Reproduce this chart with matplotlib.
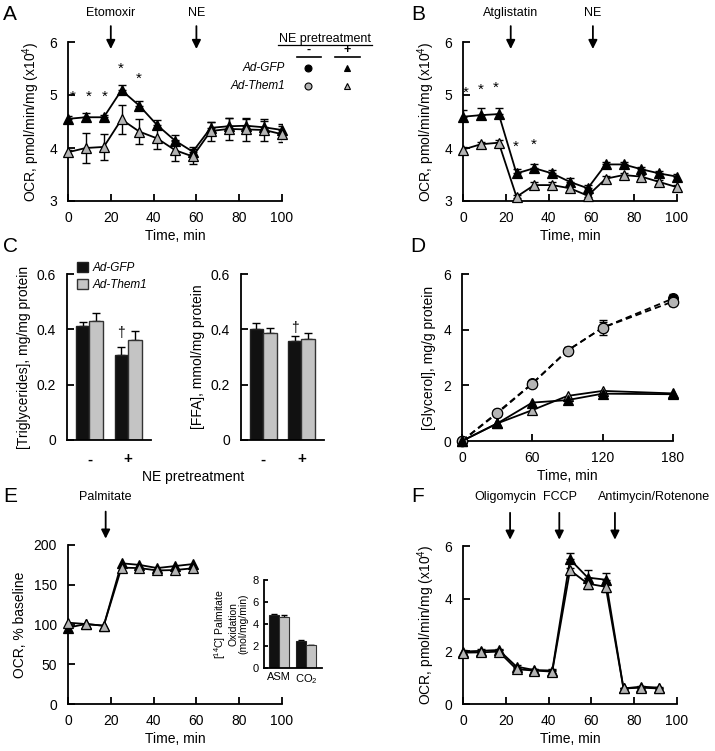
import numpy as np
import matplotlib
matplotlib.use('Agg')
import matplotlib.pyplot as plt
from matplotlib.lines import Line2D

plt.rcParams['font.family'] = ['Liberation Sans', 'DejaVu Sans']
plt.rcParams['mathtext.fontset'] = 'custom'
plt.rcParams['mathtext.rm'] = 'Liberation Sans'
plt.rcParams['mathtext.it'] = 'Liberation Sans:italic'
plt.rcParams['mathtext.default'] = 'regular'

# ---- data ----
t_min = [0, 8.3, 16.7, 25, 33.3, 41.7, 50, 58.3, 66.7, 75, 83.3, 91.7, 100]

# A: etomoxir, NE pretreated cells
a_gfp = [4.55, 4.58, 4.58, 5.09, 4.80, 4.43, 4.14, 3.93, 4.38, 4.41, 4.42, 4.39, 4.34]
a_gfp_err = [0.05, 0.08, 0.05, 0.10, 0.08, 0.10, 0.10, 0.08, 0.12, 0.15, 0.12, 0.12, 0.12]
a_them = [3.92, 4.00, 4.02, 4.54, 4.31, 4.18, 3.96, 3.84, 4.32, 4.36, 4.35, 4.34, 4.26]
a_them_err = [0.05, 0.28, 0.24, 0.28, 0.24, 0.20, 0.20, 0.15, 0.18, 0.20, 0.22, 0.20, 0.15]
a_star_t = [2.3, 9.5, 17.0, 24.5, 33.0]
a_star_y = [4.97, 4.97, 4.97, 5.49, 5.30]

# B: atglistatin
b_gfp = [4.59, 4.62, 4.64, 3.52, 3.62, 3.52, 3.36, 3.24, 3.69, 3.69, 3.60, 3.52, 3.46]
b_gfp_err = [0.12, 0.13, 0.12, 0.08, 0.08, 0.06, 0.08, 0.06, 0.04, 0.04, 0.05, 0.05, 0.05]
b_them = [3.97, 4.07, 4.10, 3.08, 3.30, 3.30, 3.24, 3.10, 3.42, 3.49, 3.46, 3.36, 3.26]
b_them_err = [0.05, 0.05, 0.06, 0.03, 0.05, 0.05, 0.05, 0.03, 0.06, 0.04, 0.04, 0.04, 0.04]
b_star_t = [1.5, 8.5, 15.5, 24.5, 33.0]
b_star_y = [5.04, 5.10, 5.14, 4.03, 4.06]

# C: triglycerides and FFA
c_groups = ['-', '+']
tg_gfp = [0.411, 0.309]
tg_gfp_err = [0.016, 0.027]
tg_them = [0.429, 0.360]
tg_them_err = [0.030, 0.034]
ffa_gfp = [0.402, 0.359]
ffa_gfp_err = [0.022, 0.018]
ffa_them = [0.388, 0.366]
ffa_them_err = [0.018, 0.019]

# D: glycerol release
d_t = [0, 30, 60, 90, 120, 180]
d_gfp_minus = [0, 1.02, 2.07, 3.25, 4.07, 5.12]
d_gfp_minus_err = [0, 0.05, 0.05, 0.10, 0.20, 0.15]
d_them_minus = [0, 0.99, 2.06, 3.25, 4.07, 5.01]
d_them_minus_err = [0, 0.10, 0.05, 0.12, 0.26, 0.15]
d_gfp_plus = [0, 0.63, 1.38, 1.47, 1.70, 1.68]
d_them_plus = [0, 0.63, 1.11, 1.62, 1.80, 1.71]

# E: palmitate
e_t = [0, 8.3, 16.7, 25, 33.3, 41.7, 50, 58.3]
e_gfp = [96, 100.6, 98.5, 177, 175, 171, 173.5, 176]
e_them = [102.3, 100.6, 98.5, 171.5, 171, 168, 168.5, 170.7]
e_inset_cats = ['ASM', 'CO$_2$']
e_inset_gfp = [4.81, 2.44]
e_inset_gfp_err = [0.10, 0.15]
e_inset_them = [4.66, 2.07]
e_inset_them_err = [0.20, 0.0]

# F: mito stress test
f_t = [0, 8.3, 16.7, 25, 33.3, 41.7, 50, 58.3, 66.7, 75, 83.3, 91.7]
f_gfp = [1.99, 2.02, 2.05, 1.42, 1.29, 1.27, 5.49, 4.80, 4.72, 0.59, 0.66, 0.62]
f_gfp_err = [0.05, 0.05, 0.05, 0.08, 0.05, 0.05, 0.24, 0.28, 0.25, 0.03, 0.03, 0.03]
f_them = [1.95, 1.96, 1.99, 1.32, 1.27, 1.23, 5.08, 4.57, 4.45, 0.59, 0.62, 0.59]
f_them_err = [0.05, 0.05, 0.05, 0.05, 0.05, 0.05, 0.10, 0.20, 0.20, 0.03, 0.03, 0.03]

GRAY = '#b4b4b4'
BARGRAY = '#c4c4c4'
W, H = 715, 751

fig = plt.figure(figsize=(W / 100, H / 100), dpi=100)


def box(l, t, r, b):
    return [l / W, 1 - b / H, (r - l) / W, (b - t) / H]


def fp(x, y):
    return x / W, 1 - y / H


def style(ax, fs=10):
    for s in ['top', 'right']:
        ax.spines[s].set_visible(False)
    for s in ['left', 'bottom']:
        ax.spines[s].set_linewidth(1.3)
    ax.tick_params(direction='in', length=5, width=1.3, labelsize=fs)
    ax.tick_params(axis='x', pad=7)
    ax.tick_params(axis='y', pad=8)


def series(ax, t, y, err, color, marker='^', ms=6.8, ls='-', both=True):
    if err is not None:
        e = np.array(err)
        yerr = [e, e] if both else [np.zeros_like(e), e]
        ax.errorbar(t, y, yerr=yerr, fmt='none', ecolor='k', elinewidth=1, capsize=3, capthick=1, zorder=2)
    line, = ax.plot(t, y, ls=ls, color='k', lw=1.3, marker=marker, ms=ms, mfc=color, mec='k', mew=0.9,
                    clip_on=False, zorder=3)
    if ls == '--':
        line.set_dashes((3.5, 2.2))


def arrow(ax, x, label, tip, tail, ty, tx=None, fs=9):
    tr = ax.get_xaxis_transform()
    ax.annotate('', xy=(x, tip), xycoords=tr, xytext=(x, tail), textcoords=tr,
                arrowprops=dict(arrowstyle='-|>', color='k', lw=1.3, mutation_scale=13,
                                shrinkA=0, shrinkB=0))
    if label:
        ax.text(x if tx is None else tx, ty, label, transform=tr, ha='center', va='center', fontsize=fs)


def time_axis(ax, xmax=100, step=20):
    ax.set_xlim(0, xmax)
    ax.set_xticks(np.arange(0, xmax + 1, step))
    ax.set_xlabel('Time, min', fontsize=10, labelpad=3)


ocr_label = 'OCR, pmol/min/mg (x10$^{4}$)'

# ---- A ----
axA = fig.add_axes(box(68, 42, 282, 201))
style(axA)
series(axA, t_min, a_gfp, a_gfp_err, 'k', both=False)
series(axA, t_min, a_them, a_them_err, GRAY)
for x, y in zip(a_star_t, a_star_y):
    axA.text(x, y, '*', ha='center', va='center', fontsize=11)
axA.set_ylim(3, 6)
axA.set_yticks([3, 4, 5, 6])
time_axis(axA)
axA.set_ylabel(ocr_label, fontsize=10, labelpad=5)
arrow(axA, 20, 'Etomoxir', 0.956, 1.10, 1.18)
arrow(axA, 60, 'NE', 0.956, 1.10, 1.18)

# legend drawn by hand
fig.text(*fp(325, 39), 'NE pretreatment', ha='center', va='center', fontsize=9)
fig.add_artist(Line2D([278 / W, 372 / W], [1 - 45 / H] * 2, color='k', lw=0.9))
fig.text(*fp(309, 50), '-', ha='center', va='center', fontsize=9, fontweight='bold')
fig.text(*fp(347, 50), '+', ha='center', va='center', fontsize=9, fontweight='bold')
fig.add_artist(Line2D([297 / W, 321 / W], [1 - 57 / H] * 2, color='k', lw=1.2))
fig.add_artist(Line2D([335 / W, 360 / W], [1 - 57 / H] * 2, color='k', lw=1.2))
for yy, lab, col in [(68, 'Ad-GFP', 'k'), (86, 'Ad-Them1', GRAY)]:
    fig.text(*fp(285, yy), lab, ha='right', va='center', fontsize=8.5, style='italic')
    fig.add_artist(Line2D([308 / W], [1 - yy / H], marker='o', ms=5, mfc=col, mec='k', mew=0.8, ls=''))
    fig.add_artist(Line2D([347 / W], [1 - yy / H], marker='^', ms=5, mfc=col, mec='k', mew=0.8, ls=''))

# ---- B ----
axB = fig.add_axes(box(463, 42, 677, 201))
style(axB)
series(axB, t_min, b_gfp, b_gfp_err, 'k', both=False)
series(axB, t_min, b_them, b_them_err, GRAY)
for x, y in zip(b_star_t, b_star_y):
    axB.text(x, y, '*', ha='center', va='center', fontsize=11)
axB.set_ylim(3, 6)
axB.set_yticks([3, 4, 5, 6])
time_axis(axB)
axB.set_ylabel(ocr_label, fontsize=10, labelpad=5)
arrow(axB, 22.3, 'Atglistatin', 0.956, 1.10, 1.18)
arrow(axB, 60.7, 'NE', 0.956, 1.10, 1.18)


# ---- C ----
def bar_panel(ax, g, ge, m, me, ylabel, dagger_y):
    style(ax)
    x = np.arange(len(c_groups))
    w = 0.35
    b1 = ax.bar(x - w / 2, g, w, color='#111111', edgecolor='#222222', lw=1, label='Ad-GFP', zorder=2)
    b2 = ax.bar(x + w / 2, m, w, color=BARGRAY, edgecolor='#333333', lw=1, label='Ad-Them1', zorder=2)
    ax.errorbar(x - w / 2, g, yerr=[np.zeros(len(g)), ge], fmt='none', ecolor='k', elinewidth=1,
                capsize=3, zorder=1)
    ax.errorbar(x + w / 2, m, yerr=[np.zeros(len(m)), me], fmt='none', ecolor='k', elinewidth=1,
                capsize=3, zorder=1)
    ax.text(x[1] - w / 2, dagger_y, '\u2020', ha='center', va='center', fontsize=10)
    ax.set_xlim(-0.58, 1.59)
    ax.set_ylim(0, 0.6)
    ax.set_yticks([0, 0.2, 0.4, 0.6])
    ax.set_yticklabels(['0', '0.2', '0.4', '0.6'])
    ax.set_xticks(x)
    ax.set_xticklabels(c_groups, fontsize=11, fontweight='bold')
    ax.tick_params(axis='x', length=0, pad=9)
    ax.set_ylabel(ylabel, fontsize=10, labelpad=4)
    return b1, b2


axC1 = fig.add_axes(box(67, 274, 151, 440))
h1, h2 = bar_panel(axC1, tg_gfp, tg_gfp_err, tg_them, tg_them_err,
                   '[Triglycerides], mg/mg protein', 0.385)
axC2 = fig.add_axes(box(241, 274, 324, 440))
bar_panel(axC2, ffa_gfp, ffa_gfp_err, ffa_them, ffa_them_err,
          '[FFA], mmol/mg protein', 0.405)
axC1.legend(handles=[h1, h2], loc='upper left', bbox_to_anchor=(77 / W, 1 - 262 / H),
            bbox_transform=fig.transFigure, frameon=False, prop={'style': 'italic', 'size': 8.5},
            handlelength=0.9, handleheight=0.9, handletextpad=0.45, labelspacing=0.45, borderpad=0,
            borderaxespad=0)
fig.text(*fp(193, 477), 'NE pretreatment', ha='center', va='center', fontsize=10)

# ---- D ----
axD = fig.add_axes(box(462, 274, 673, 441))
style(axD)
series(axD, d_t, d_gfp_minus, d_gfp_minus_err, 'k', marker='o', ms=7, ls='--', both=False)
series(axD, d_t, d_them_minus, d_them_minus_err, GRAY, marker='o', ms=7.5, ls='--')
series(axD, d_t, d_them_plus, None, GRAY)
series(axD, d_t, d_gfp_plus, None, 'k')
axD.set_ylim(0, 6)
axD.set_yticks([0, 2, 4, 6])
time_axis(axD, 180, 60)
axD.set_ylabel('[Glycerol], mg/g protein', fontsize=10, labelpad=5)

# ---- E ----
axE = fig.add_axes(box(68, 545, 282, 704))
style(axE)
series(axE, e_t, e_gfp, None, 'k')
series(axE, e_t, e_them, None, GRAY)
axE.set_ylim(0, 200)
axE.set_yticks([0, 50, 100, 150, 200])
time_axis(axE)
axE.set_ylabel('OCR, % baseline', fontsize=10, labelpad=5)
arrow(axE, 17.6, 'Palmitate', 1.04, 1.21, 1.30)

axI = fig.add_axes(box(264, 580, 322, 668))
style(axI, fs=8)
xi = np.arange(len(e_inset_cats))
wi = 0.36
axI.bar(xi - wi / 2, e_inset_gfp, wi, color='#111111', edgecolor='#222222', lw=0.8, zorder=2)
axI.bar(xi + wi / 2, e_inset_them, wi, color=BARGRAY, edgecolor='#333333', lw=0.8, zorder=2)
axI.errorbar(xi - wi / 2, e_inset_gfp, yerr=[np.zeros(2), e_inset_gfp_err], fmt='none', ecolor='k',
             elinewidth=0.8, capsize=2, zorder=1)
axI.errorbar(xi + wi / 2, e_inset_them, yerr=[np.zeros(2), e_inset_them_err], fmt='none', ecolor='k',
             elinewidth=0.8, capsize=2, zorder=1)
axI.set_xlim(-0.56, 1.6)
axI.set_ylim(0, 8)
axI.set_yticks([0, 2, 4, 6, 8])
axI.set_xticks(xi)
axI.set_xticklabels(e_inset_cats, fontsize=8)
axI.tick_params(axis='x', length=0, pad=3)
axI.tick_params(axis='y', length=3, pad=4)
axI.set_ylabel('[$^{14}$C] Palmitate\nOxidation\n(mol/mg/min)', fontsize=7.5, labelpad=3,
               linespacing=1.0)

# ---- F ----
axF = fig.add_axes(box(463, 546, 677, 704))
style(axF)
series(axF, f_t, f_gfp, f_gfp_err, 'k', both=False)
series(axF, f_t, f_them, f_them_err, GRAY)
axF.set_ylim(0, 6)
axF.set_yticks([0, 2, 4, 6])
time_axis(axF)
axF.set_ylabel(ocr_label, fontsize=10, labelpad=5)
arrow(axF, 22, 'Oligomycin', 1.04, 1.21, 1.31, tx=20)
arrow(axF, 45, 'FCCP', 1.04, 1.21, 1.31, tx=45.3)
arrow(axF, 71, 'Antimycin/Rotenone', 1.04, 1.21, 1.31, tx=89.5)

# panel letters
for lab, x, y in [('A', 10, 14), ('B', 418, 14), ('C', 10, 246), ('D', 418, 246),
                  ('E', 10, 497), ('F', 418, 497)]:
    fig.text(*fp(x, y), lab, ha='center', va='center', fontsize=15)

fig.savefig('out.png', dpi=100)
